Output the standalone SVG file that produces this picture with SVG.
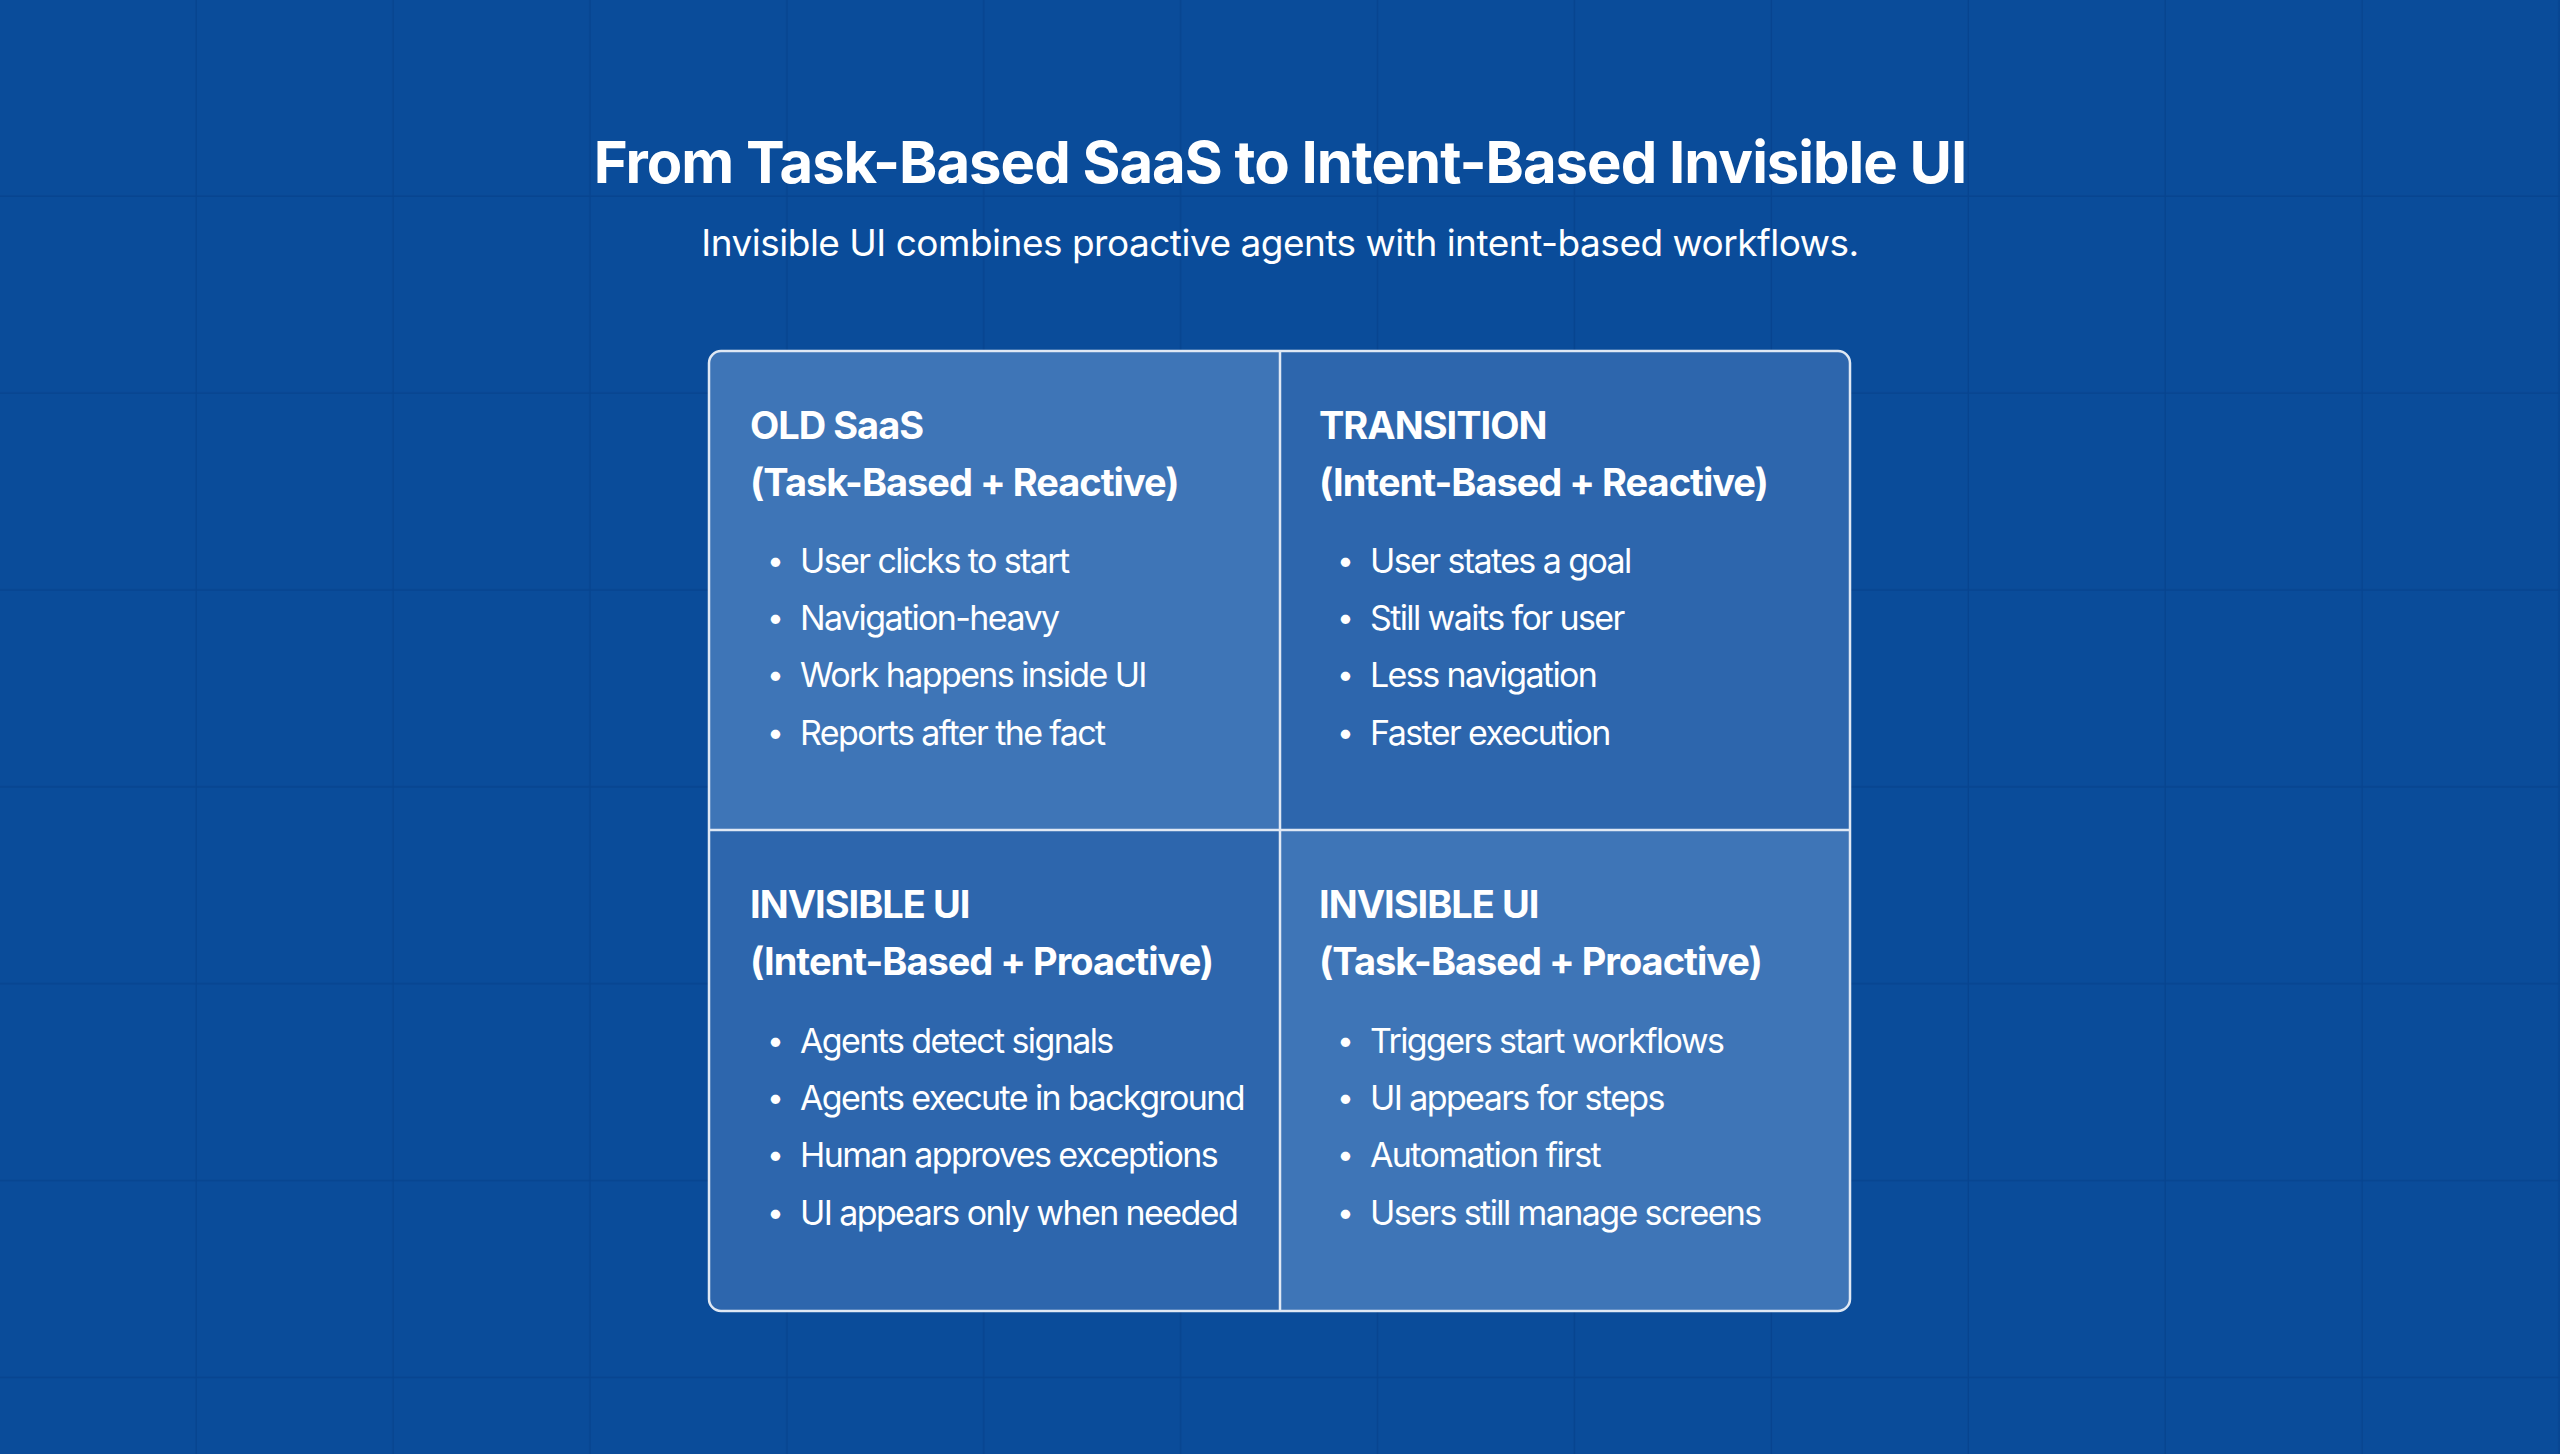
<svg xmlns="http://www.w3.org/2000/svg" width="2560" height="1454" viewBox="0 0 2560 1454">
<defs>
<pattern id="grid" width="196.9" height="196.9" patternUnits="userSpaceOnUse">
<path d="M196.9 0V196.9M0 196.9H196.9" fill="none" stroke="#07448f" stroke-width="3"/>
</pattern>
<clipPath id="boxclip"><rect x="709" y="351" width="1141" height="960" rx="12"/></clipPath>
</defs>
<style>
text{font-family:Inter,"Liberation Sans",sans-serif;fill:#ffffff}
.t{font-size:58px;font-weight:700;text-anchor:middle;letter-spacing:-1px}
.s{font-size:37px;text-anchor:middle;letter-spacing:-0.5px}
.h{font-size:38px;font-weight:700;letter-spacing:-1px}
.b{font-size:34px;letter-spacing:-1.6px}
.d{font-size:30px}
.light{fill:#3e75b7}
.dark{fill:#2d66ad}
</style>
<rect width="2560" height="1454" fill="#0a4c9a"/>
<rect width="2560" height="1454" fill="url(#grid)"/>
<text class="t" x="1280" y="183">From Task-Based SaaS to Intent-Based Invisible UI</text>
<text class="s" x="1280" y="256">Invisible UI combines proactive agents with intent-based workflows.</text>
<g clip-path="url(#boxclip)">
<rect class="light" x="709" y="351" width="571" height="479"/>
<rect class="dark" x="1280" y="351" width="570" height="479"/>
<rect class="dark" x="709" y="830" width="571" height="481"/>
<rect class="light" x="1280" y="830" width="570" height="481"/>
</g>
<g id="connectors" stroke="#dfe8f4" stroke-width="2.5" fill="none">
<rect x="709" y="351" width="1141" height="960" rx="12"/>
<line x1="1280" y1="351" x2="1280" y2="1311"/>
<line x1="709" y1="830" x2="1850" y2="830"/>
</g>
<g id="old-saas">
<text class="h" x="750" y="439">OLD SaaS</text>
<text class="h" x="750" y="496">(Task-Based + Reactive)</text>
<g class="d">
<text x="767" y="571">•</text><text x="767" y="628">•</text><text x="767" y="685">•</text><text x="767" y="743">•</text>
</g>
<g class="b">
<text x="800" y="573">User clicks to start</text>
<text x="800" y="630">Navigation-heavy</text>
<text x="800" y="687">Work happens inside UI</text>
<text x="800" y="745">Reports after the fact</text>
</g>
</g>
<g id="transition">
<text class="h" x="1319" y="439">TRANSITION</text>
<text class="h" x="1319" y="496">(Intent-Based + Reactive)</text>
<g class="d">
<text x="1337" y="571">•</text><text x="1337" y="628">•</text><text x="1337" y="685">•</text><text x="1337" y="743">•</text>
</g>
<g class="b">
<text x="1370" y="573">User states a goal</text>
<text x="1370" y="630">Still waits for user</text>
<text x="1370" y="687">Less navigation</text>
<text x="1370" y="745">Faster execution</text>
</g>
</g>
<g id="invisible-intent">
<text class="h" x="750" y="918">INVISIBLE UI</text>
<text class="h" x="750" y="975">(Intent-Based + Proactive)</text>
<g class="d">
<text x="767" y="1051">•</text><text x="767" y="1108">•</text><text x="767" y="1165">•</text><text x="767" y="1223">•</text>
</g>
<g class="b">
<text x="800" y="1053">Agents detect signals</text>
<text x="800" y="1110">Agents execute in background</text>
<text x="800" y="1167">Human approves exceptions</text>
<text x="800" y="1225">UI appears only when needed</text>
</g>
</g>
<g id="invisible-task">
<text class="h" x="1319" y="918">INVISIBLE UI</text>
<text class="h" x="1319" y="975">(Task-Based + Proactive)</text>
<g class="d">
<text x="1337" y="1051">•</text><text x="1337" y="1108">•</text><text x="1337" y="1165">•</text><text x="1337" y="1223">•</text>
</g>
<g class="b">
<text x="1370" y="1053">Triggers start workflows</text>
<text x="1370" y="1110">UI appears for steps</text>
<text x="1370" y="1167">Automation first</text>
<text x="1370" y="1225">Users still manage screens</text>
</g>
</g>
</svg>
